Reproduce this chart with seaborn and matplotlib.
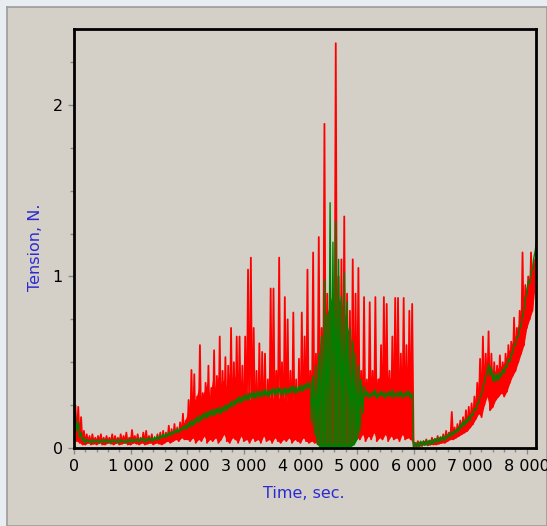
import numpy as np
import pandas as pd
import matplotlib
matplotlib.use("Agg")
import matplotlib.pyplot as plt
import seaborn as sns
from matplotlib.ticker import MultipleLocator, FuncFormatter

# ---- data: samples every 50 s ----
step_s = 50

# low / high of each red swing
red_lo = [0.05, 0.04, 0.03, 0.02,
          0.02, 0.03, 0.02, 0.025, 0.02, 0.03, 0.02, 0.02, 0.03, 0.025,
          0.02, 0.03, 0.02, 0.025, 0.03, 0.02, 0.02, 0.03, 0.025, 0.02,
          0.03, 0.02, 0.025, 0.03, 0.02, 0.03, 0.025, 0.02, 0.03, 0.04,
          0.03, 0.04, 0.05, 0.04, 0.06, 0.05,
          0.05, 0.04, 0.06, 0.03, 0.05, 0.04, 0.07, 0.03, 0.05, 0.04,
          0.06, 0.03, 0.05, 0.08, 0.04, 0.03, 0.06, 0.05, 0.03, 0.07,
          0.04, 0.05, 0.03, 0.06, 0.04, 0.05, 0.03, 0.07, 0.04, 0.05,
          0.03, 0.06, 0.04, 0.03, 0.05, 0.04, 0.06, 0.03, 0.05, 0.04,
          0.03, 0.06, 0.04, 0.03,
          0.04, 0.03, 0.03, 0.02, 0.03, 0.02, 0.03, 0.02, 0.03, 0.02,
          0.03, 0.02, 0.03, 0.02, 0.03, 0.04,
          0.06, 0.05, 0.08, 0.04, 0.07, 0.05, 0.09, 0.04, 0.06, 0.05,
          0.08, 0.04, 0.07, 0.05, 0.06, 0.04, 0.08, 0.05, 0.06, 0.05,
          0.01, 0.01, 0.01, 0.015, 0.02, 0.015, 0.02, 0.02, 0.02, 0.025,
          0.03, 0.03, 0.04, 0.05, 0.05, 0.06, 0.07, 0.08, 0.09, 0.10,
          0.12, 0.14, 0.17, 0.20, 0.18, 0.25, 0.30, 0.22, 0.24, 0.28,
          0.30, 0.32, 0.30, 0.33, 0.38, 0.42, 0.45, 0.50, 0.55, 0.60,
          0.70, 0.75, 0.80, 0.95]

red_hi = [0.25, 0.24, 0.18, 0.10,
          0.08, 0.07, 0.08, 0.06, 0.07, 0.08, 0.06, 0.07, 0.06, 0.08,
          0.07, 0.06, 0.08, 0.07, 0.09, 0.06, 0.105, 0.07, 0.08, 0.06,
          0.09, 0.10, 0.07, 0.08, 0.06, 0.08, 0.09, 0.10, 0.09, 0.13,
          0.11, 0.14, 0.12, 0.15, 0.20, 0.16,
          0.28, 0.455, 0.43, 0.30, 0.60, 0.32, 0.38, 0.48, 0.35, 0.57,
          0.42, 0.65, 0.45, 0.53, 0.48, 0.70, 0.50, 0.65, 0.65, 0.48,
          0.65, 1.04, 1.11, 0.70, 0.45, 0.61, 0.56, 0.55, 0.40, 0.93,
          0.93, 0.45, 1.11, 0.50, 0.88, 0.75, 0.45, 0.79, 0.40, 0.52,
          0.79, 0.65, 1.04, 0.45,
          1.14, 0.55, 1.23, 0.70, 1.89, 0.90, 1.00, 0.90, 2.36, 1.00,
          1.10, 1.35, 0.90, 0.80, 1.10, 0.90,
          1.05, 0.45, 0.88, 0.40, 0.85, 0.45, 0.88, 0.40, 0.60, 0.88,
          0.84, 0.45, 0.65, 0.875, 0.875, 0.55, 0.875, 0.60, 0.80, 0.84,
          0.03, 0.04, 0.03, 0.04, 0.05, 0.04, 0.06, 0.05, 0.07, 0.06,
          0.08, 0.10, 0.09, 0.21, 0.12, 0.14, 0.16, 0.18, 0.22, 0.24,
          0.26, 0.30, 0.38, 0.52, 0.65, 0.55, 0.68, 0.55, 0.50, 0.48,
          0.54, 0.50, 0.55, 0.60, 0.62, 0.76, 0.70, 0.80, 1.14, 0.95,
          1.00, 1.14, 1.10, 1.15]

# top of the solid red body (red is dense between red_lo and this)
red_top = [0.20, 0.15, 0.10, 0.07,
           0.06, 0.05, 0.06, 0.05, 0.06, 0.06, 0.05, 0.06, 0.05, 0.06,
           0.06, 0.05, 0.06, 0.05, 0.06, 0.05, 0.07, 0.06, 0.06, 0.05,
           0.06, 0.07, 0.06, 0.06, 0.05, 0.06, 0.07, 0.07, 0.07, 0.08,
           0.08, 0.09, 0.10, 0.11, 0.14, 0.15,
           0.20, 0.25, 0.30, 0.28, 0.35, 0.30, 0.33, 0.38, 0.30, 0.40,
           0.35, 0.42, 0.38, 0.40, 0.35, 0.45, 0.40, 0.42, 0.38, 0.40,
           0.30, 0.32, 0.28, 0.30, 0.27, 0.30, 0.28, 0.30, 0.27, 0.30,
           0.28, 0.32, 0.30, 0.28, 0.30, 0.27, 0.30, 0.28, 0.30, 0.32,
           0.30, 0.35, 0.38, 0.40,
           0.40, 0.45, 0.50, 0.55, 0.60, 0.60, 0.65, 0.70, 0.70, 0.70,
           0.65, 0.60, 0.55, 0.50, 0.45, 0.45,
           0.38, 0.40, 0.42, 0.38, 0.40, 0.42, 0.40, 0.38, 0.42, 0.40,
           0.38, 0.42, 0.40, 0.38, 0.42, 0.40, 0.38, 0.42, 0.40, 0.40,
           0.03, 0.035, 0.04, 0.04, 0.045, 0.045, 0.05, 0.055, 0.06, 0.065,
           0.07, 0.075, 0.085, 0.095, 0.105, 0.115, 0.14, 0.155, 0.17, 0.19,
           0.21, 0.24, 0.28, 0.35, 0.42, 0.45, 0.50, 0.48, 0.45, 0.45,
           0.47, 0.48, 0.50, 0.55, 0.58, 0.62, 0.66, 0.72, 0.80, 0.88,
           0.95, 1.00, 1.05, 1.10]

# low / high of each green swing
green_lo = [0.12, 0.10, 0.06, 0.04,
            0.03, 0.035, 0.03, 0.03, 0.035, 0.03, 0.03, 0.035, 0.03, 0.03,
            0.035, 0.03, 0.03, 0.035, 0.03, 0.03,
            0.035, 0.035, 0.04, 0.035, 0.04, 0.035, 0.04, 0.04,
            0.04, 0.045, 0.05, 0.055, 0.06, 0.065, 0.07, 0.08, 0.085, 0.09,
            0.10, 0.11,
            0.11, 0.12, 0.13, 0.14, 0.15, 0.16, 0.17, 0.175, 0.18, 0.19,
            0.19, 0.20, 0.20, 0.21, 0.22, 0.23, 0.24, 0.25, 0.26, 0.265,
            0.27, 0.28, 0.28, 0.29, 0.29, 0.29, 0.30, 0.30, 0.30, 0.30,
            0.31, 0.31, 0.31, 0.31, 0.31, 0.31, 0.32, 0.32, 0.32, 0.32,
            0.33, 0.33, 0.34, 0.35,
            0.15, 0.08, 0.02, 0.0, 0.0, 0.0, 0.0, 0.0, 0.0, 0.0,
            0.0, 0.0, 0.0, 0.0, 0.01, 0.02, 0.05, 0.10, 0.20,
            0.30, 0.29, 0.30, 0.30, 0.29, 0.30, 0.30, 0.29, 0.30, 0.30,
            0.29, 0.30, 0.30, 0.29, 0.30, 0.30, 0.29,
            0.005, 0.005, 0.01, 0.01, 0.015, 0.015, 0.02, 0.025, 0.03, 0.035,
            0.04, 0.045, 0.055, 0.065, 0.075, 0.085, 0.10, 0.115, 0.13, 0.145,
            0.16, 0.19, 0.22, 0.26, 0.31, 0.38, 0.44, 0.42, 0.39, 0.385,
            0.395, 0.415, 0.435, 0.47, 0.50, 0.55, 0.60, 0.65, 0.71, 0.80,
            0.90, 0.96, 1.04, 1.15]

green_hi = [0.20, 0.15, 0.09, 0.06,
            0.05, 0.045, 0.05, 0.045, 0.05, 0.045, 0.05, 0.05, 0.045, 0.05,
            0.045, 0.05, 0.05, 0.045, 0.05, 0.05,
            0.055, 0.05, 0.055, 0.055, 0.06, 0.055, 0.06, 0.06,
            0.065, 0.07, 0.075, 0.08, 0.085, 0.09, 0.095, 0.105, 0.11, 0.115,
            0.125, 0.135,
            0.15, 0.16, 0.17, 0.18, 0.19, 0.20, 0.21, 0.215, 0.22, 0.23,
            0.23, 0.24, 0.24, 0.25, 0.26, 0.27, 0.28, 0.29, 0.30, 0.305,
            0.31, 0.32, 0.32, 0.33, 0.33, 0.33, 0.34, 0.34, 0.34, 0.34,
            0.35, 0.35, 0.35, 0.35, 0.35, 0.35, 0.36, 0.36, 0.36, 0.36,
            0.37, 0.37, 0.38, 0.39,
            0.42, 0.48, 0.55, 0.65, 0.98, 0.78, 1.43, 1.20, 1.32, 1.10,
            0.88, 1.02, 0.85, 0.70, 0.62, 0.55, 0.48, 0.40, 0.36,
            0.33, 0.32, 0.33, 0.34, 0.32, 0.33, 0.33, 0.32, 0.33, 0.34,
            0.32, 0.33, 0.33, 0.32, 0.33, 0.33, 0.32,
            0.03, 0.035, 0.04, 0.04, 0.045, 0.045, 0.05, 0.055, 0.06, 0.065,
            0.07, 0.075, 0.085, 0.095, 0.105, 0.115, 0.14, 0.155, 0.17, 0.185,
            0.20, 0.23, 0.26, 0.30, 0.35, 0.42, 0.49, 0.47, 0.435, 0.43,
            0.44, 0.46, 0.48, 0.52, 0.55, 0.60, 0.65, 0.70, 0.77, 0.87,
            0.97, 1.03, 1.11, 1.22]

# solid green body during the oscillation burst (from 4200 s)
green_body_start_s = 4200
green_body_top = [0.38, 0.45, 0.52, 0.60, 0.68, 0.75, 0.82, 0.88, 0.90, 0.88,
                  0.86, 0.82, 0.76, 0.68, 0.62, 0.55, 0.48, 0.42, 0.36]

x_major = [0, 1000, 2000, 3000, 4000, 5000, 6000, 7000, 8000]
y_major = [0, 1, 2]
x_label = "Time, sec."
y_label = "Tension, N."

RED, GREEN = "#ff0000", "#008000"

# ---- build long tables: each 50 s sample swings low -> high ----
time_s = np.arange(len(red_lo)) * step_s


def swings(lo, hi, name):
    t = np.empty(2 * len(lo))
    v = np.empty(2 * len(lo))
    t[0::2] = time_s
    t[1::2] = time_s + step_s / 2
    v[0::2] = lo
    v[1::2] = hi
    return pd.DataFrame({"time": t, "tension": v, "sensor": name})


red_df = swings(red_lo, red_hi, "red")
green_df = swings(green_lo, green_hi, "green")

# ---- figure ----
sns.set_style("ticks")
plt.rcParams["font.family"] = ["DejaVu Sans"]

W, H = 547, 526
fig = plt.figure(figsize=(W / 100, H / 100), dpi=100, facecolor="#e7edf1")

# grey window panel behind the chart
panel = fig.add_axes([7 / W, 0, (W - 7) / W, (H - 7) / H], zorder=-5)
panel.set_facecolor("#d4d0c8")
panel.set_xticks([])
panel.set_yticks([])
for s in panel.spines.values():
    s.set_color("#9c9c9c")
    s.set_linewidth(1.2)

ax = fig.add_axes([74 / W, (H - 448) / H, 462 / W, 419 / H], zorder=1)
ax.set_facecolor("#d4d0c8")

# red: solid body + swings
ax.fill_between(time_s, red_lo, red_top, color=RED, linewidth=0)
sns.lineplot(data=red_df, x="time", y="tension", color=RED,
             estimator=None, sort=False, linewidth=1.3, legend=False, ax=ax)

# green: solid body of the burst + swings
i0 = green_body_start_s // step_s
gb_t = time_s[i0:i0 + len(green_body_top)]
ax.fill_between(gb_t, green_lo[i0:i0 + len(green_body_top)], green_body_top,
                color=GREEN, linewidth=0)
sns.lineplot(data=green_df, x="time", y="tension", color=GREEN,
             estimator=None, sort=False, linewidth=1.0, legend=False, ax=ax)

ax.set_xlim(0, 8163)
ax.set_ylim(0, 2.443)

ax.set_xticks(x_major)
ax.set_yticks(y_major)
ax.xaxis.set_minor_locator(MultipleLocator(200))
ax.yaxis.set_minor_locator(MultipleLocator(0.25))
ax.xaxis.set_major_formatter(FuncFormatter(lambda v, p: f"{int(round(v)):,}".replace(",", " ")))
ax.yaxis.set_major_formatter(FuncFormatter(lambda v, p: f"{int(round(v))}"))

ax.tick_params(which="major", direction="out", length=4, width=1,
               color="#8a8a8a", labelsize=11.5, labelcolor="black", pad=4)
ax.tick_params(which="minor", direction="out", length=3, width=1,
               color="#8a8a8a")

for s in ax.spines.values():
    s.set_color("black")
    s.set_linewidth(2)
    s.set_visible(True)

ax.set_xlabel(x_label, color="#2a2ad2", fontsize=11.5)
ax.set_ylabel(y_label, color="#2a2ad2", fontsize=11.5)
ax.xaxis.label.set_va("center")
ax.yaxis.label.set_va("center")
ax.xaxis.set_label_coords(0.497, (448 - 493) / 419)
ax.yaxis.set_label_coords((35 - 74) / 462, 0.48)

fig.savefig("out.png", dpi=100, facecolor=fig.get_facecolor())
